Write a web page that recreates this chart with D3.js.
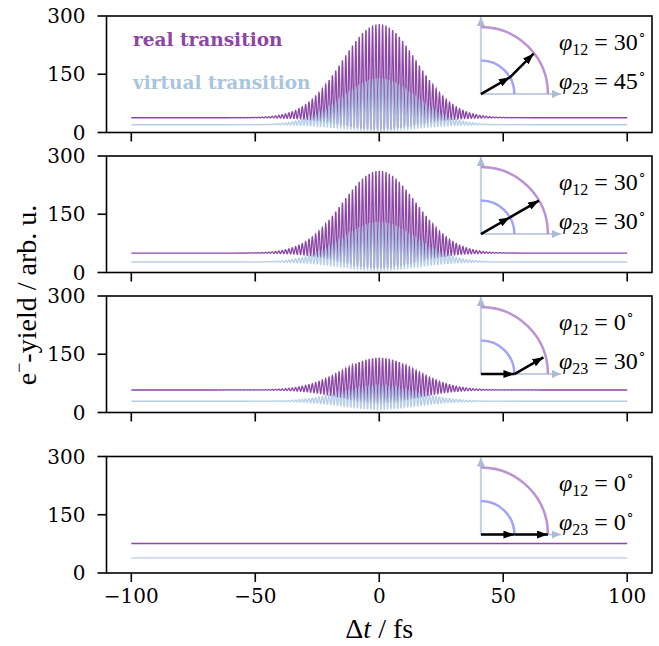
<!DOCTYPE html>
<html>
<head>
<meta charset="utf-8">
<script src="https://cdn.jsdelivr.net/npm/d3@7"></script>
<style>
body { margin: 0; background: #fff; }
svg { display: block; }
.tick-label { font-family: "DejaVu Serif", serif; font-size: 20px; fill: #000; }
.axis-title { font-family: "Liberation Serif", serif; font-size: 28px; fill: #000; }
.phase { font-family: "Liberation Serif", serif; font-size: 24px; fill: #000; }
.legend { font-family: "DejaVu Serif", serif; font-size: 18.5px; font-weight: bold; }
</style>
</head>
<body>
<svg class="chart"></svg>
<script>
var PLOT_WIDTH = 659;
var PLOT_HEIGHT = 646;

var LEFT = 106.5;
var RIGHT = 652;
var PANEL_TOPS = [16, 156, 296, 456.5];
var PANEL_HEIGHT = 116.5;
var TICK = 9;

var PURPLE = "#8b46a6";
var BLUE = "#a9c5e2";

// values
var x_ticks = [-100, -50, 0, 50, 100];
var y_ticks = [0, 150, 300];
var time_range = [-100, 100];
var phi12 = [30, 30, 0, 0];
var phi23 = [45, 30, 30, 0];
var real_base = [38, 50, 58, 76];
var real_peak = [279, 262, 141, 76];
var real_trough = [8, 12, 25, 76];
var virtual_base = [20, 27, 29, 39];
var virtual_peak = [140, 131, 71, 39];
var virtual_trough = [4, 5, 8, 39];
var envelope_sigma = 15;   // fs
var carrier_period = 1.35; // fs, spacing of the fringes

var plot = d3.select(".chart");
plot.attr("width", PLOT_WIDTH);
plot.attr("height", PLOT_HEIGHT);

var defs = plot.append("defs");
function marker(id, color, len, wid) {
    defs.append("marker")
        .attr("id", id)
        .attr("viewBox", "0 0 " + len + " " + wid)
        .attr("refX", len)
        .attr("refY", wid / 2)
        .attr("markerUnits", "userSpaceOnUse")
        .attr("markerWidth", len)
        .attr("markerHeight", wid)
        .attr("orient", "auto")
        .append("path")
        .attr("d", "M0,0 L" + len + "," + (wid / 2) + " L0," + wid + " Z")
        .attr("fill", color);
}
marker("head-black", "#000", 11, 8);
marker("head-axis", "#a9bcd8", 9, 8);

var x = d3.scaleLinear().domain([-110, 110]).range([LEFT, RIGHT]);

// fringe signal built from the envelope values read above
function series(base, peak, trough) {
    var pts = [];
    for (var i = 0; i <= 4000; i++) {
        var t = time_range[0] + i * (time_range[1] - time_range[0]) / 4000;
        var g = Math.exp(-t * t / (2 * envelope_sigma * envelope_sigma));
        var up = base + (peak - base) * g;
        var lo = base - (base - trough) * g;
        pts.push([t, (up + lo) / 2 + (up - lo) / 2 * Math.cos(2 * Math.PI * t / carrier_period)]);
    }
    return pts;
}

PANEL_TOPS.forEach(function(top, p) {
    var y = d3.scaleLinear().domain([0, 300]).range([top + PANEL_HEIGHT, top]);
    var g = plot.append("g");

    var line = d3.line()
        .x(function(d) { return x(d[0]); })
        .y(function(d) { return y(d[1]); });

    g.append("path")
        .attr("d", line(series(real_base[p], real_peak[p], real_trough[p])))
        .attr("fill", "none")
        .attr("stroke", PURPLE)
        .attr("stroke-width", 1.3);

    g.append("path")
        .attr("d", line(series(virtual_base[p], virtual_peak[p], virtual_trough[p])))
        .attr("fill", "none")
        .attr("stroke", BLUE)
        .attr("stroke-width", 1.3)
        .attr("stroke-opacity", 0.85);

    // phase diagram
    var ox = x(41), oy = y(99);
    var r1 = 33.5, r2 = 67;
    g.append("line")
        .attr("x1", ox).attr("y1", oy).attr("x2", ox).attr("y2", top + 1)
        .attr("stroke", "#a9bcd8").attr("stroke-width", 2).attr("stroke-opacity", 0.7)
        .attr("marker-end", "url(#head-axis)");
    g.append("line")
        .attr("x1", ox).attr("y1", oy).attr("x2", ox + 80).attr("y2", oy)
        .attr("stroke", "#a9bcd8").attr("stroke-width", 2).attr("stroke-opacity", 0.7)
        .attr("marker-end", "url(#head-axis)");
    var arc = d3.arc().startAngle(0).endAngle(Math.PI / 2);
    g.append("path")
        .attr("d", arc.innerRadius(r2).outerRadius(r2)())
        .attr("transform", "translate(" + ox + "," + oy + ")")
        .attr("fill", "none").attr("stroke", "#bd92d2").attr("stroke-width", 2.5);
    g.append("path")
        .attr("d", arc.innerRadius(r1).outerRadius(r1)())
        .attr("transform", "translate(" + ox + "," + oy + ")")
        .attr("fill", "none").attr("stroke", "#a3a3f7").attr("stroke-width", 2.5);

    var a1 = phi12[p] * Math.PI / 180, a2 = phi23[p] * Math.PI / 180;
    var mx = ox + r1 * Math.cos(a1), my = oy - r1 * Math.sin(a1);
    var ex = mx + r1 * Math.cos(a2), ey = my - r1 * Math.sin(a2);
    g.append("line")
        .attr("x1", ox).attr("y1", oy).attr("x2", mx).attr("y2", my)
        .attr("stroke", "#000").attr("stroke-width", 2.5)
        .attr("marker-end", "url(#head-black)");
    g.append("line")
        .attr("x1", mx).attr("y1", my).attr("x2", ex).attr("y2", ey)
        .attr("stroke", "#000").attr("stroke-width", 2.5)
        .attr("marker-end", "url(#head-black)");

    [[phi12[p], "12", 34], [phi23[p], "23", 73]].forEach(function(ph) {
        var txt = g.append("text").attr("class", "phase")
            .attr("x", 559).attr("y", top + ph[2]);
        txt.append("tspan").attr("font-style", "italic").text("φ");
        txt.append("tspan").attr("font-size", 16).attr("dy", 5).text(ph[1]);
        txt.append("tspan").attr("dy", -5).text(" = " + ph[0]);
        txt.append("tspan").attr("font-size", 13).attr("dy", -12).text("∘");
    });

    // frame
    g.append("rect")
        .attr("x", LEFT).attr("y", top)
        .attr("width", RIGHT - LEFT).attr("height", PANEL_HEIGHT)
        .attr("fill", "none").attr("stroke", "#000").attr("stroke-width", 1.6);

    x_ticks.forEach(function(v) {
        g.append("line")
            .attr("x1", x(v)).attr("x2", x(v))
            .attr("y1", top + PANEL_HEIGHT).attr("y2", top + PANEL_HEIGHT + TICK)
            .attr("stroke", "#000").attr("stroke-width", 1.6);
        if (p == PANEL_TOPS.length - 1) {
            g.append("text").attr("class", "tick-label")
                .attr("x", x(v)).attr("y", top + PANEL_HEIGHT + 30)
                .attr("text-anchor", "middle")
                .text(v < 0 ? "\u2212" + (-v) : v);
        }
    });
    y_ticks.forEach(function(v) {
        g.append("line")
            .attr("x1", LEFT - TICK).attr("x2", LEFT)
            .attr("y1", y(v)).attr("y2", y(v))
            .attr("stroke", "#000").attr("stroke-width", 1.6);
        g.append("text").attr("class", "tick-label")
            .attr("x", LEFT - TICK - 12).attr("y", y(v) + 7)
            .attr("text-anchor", "end")
            .text(v);
    });

    if (p == 0) {
        g.append("text").attr("class", "legend").attr("fill", PURPLE)
            .attr("x", 133).attr("y", 46).text("real transition");
        g.append("text").attr("class", "legend").attr("fill", BLUE)
            .attr("x", 133).attr("y", 89).text("virtual transition");
    }
});

var xt = plot.append("text").attr("class", "axis-title")
    .attr("x", x(0)).attr("y", 638).attr("text-anchor", "middle");
xt.append("tspan").text("Δ");
xt.append("tspan").attr("font-style", "italic").text("t");
xt.append("tspan").text(" / fs");

var yt = plot.append("text").attr("class", "axis-title")
    .attr("transform", "translate(36,295) rotate(-90)")
    .attr("text-anchor", "middle");
yt.append("tspan").text("e");
yt.append("tspan").attr("font-size", 18).attr("dy", -11).text("\u2212");
yt.append("tspan").attr("dy", 11).text("-yield / arb. u.");
</script>
</body>
</html>
